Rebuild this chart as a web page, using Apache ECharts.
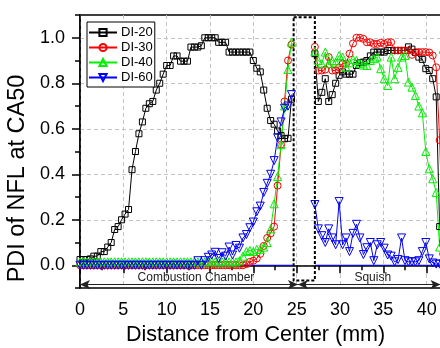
<!DOCTYPE html>
<html>
<head>
<meta charset="utf-8">
<script src="https://cdn.jsdelivr.net/npm/echarts@6/dist/echarts.min.js"></script>
<style>html,body{margin:0;padding:0;background:#fff}#c{width:440px;height:348px}</style>
</head>
<body>
<div id="c"></div>
<script>
// ---- data ----
const seriesNames = ['DI-20', 'DI-30', 'DI-40', 'DI-60'];
const xPre = [0.0,0.4,0.8,1.2,1.6,2.0,2.4,2.8,3.2,3.6,4.0,4.4,4.8,5.2,5.6,6.0,6.4,6.8,7.2,7.6,8.0,8.4,8.8,9.2,9.6,10.0,10.4,10.8,11.2,11.6,12.0,12.4,12.8,13.2,13.6,14.0,14.4,14.8,15.2,15.6,16.0,16.4,16.8,17.2,17.6,18.0,18.4,18.8,19.2,19.6,20.0,20.4,20.8,21.2,21.6,22.0,22.4,22.8,23.2,23.6,24.0,24.4];
const xPost = [27.1,27.5,27.9,28.3,28.7,29.1,29.5,29.9,30.3,30.7,31.1,31.5,31.9,32.3,32.7,33.1,33.5,33.9,34.3,34.7,35.1,35.5,35.9,36.3,36.7,37.1,37.5,37.9,38.3,38.7,39.1,39.5,39.9,40.3,40.7,41.1,41.5,41.9];
const xGap = 25.8;

const di20Pre = [0.025,0.025,0.025,0.028,0.04,0.04,0.06,0.06,0.08,0.10,0.157,0.17,0.20,0.225,0.245,0.42,0.50,0.578,0.63,0.69,0.71,0.72,0.77,0.80,0.84,0.878,0.878,0.92,0.92,0.897,0.897,0.897,0.959,0.959,0.959,0.965,1.0,1.0,1.0,1.0,0.98,0.98,0.98,0.937,0.937,0.937,0.937,0.937,0.937,0.937,0.90,0.866,0.85,0.77,0.69,0.636,0.62,0.59,0.57,0.556,0.558,0.73];
const di20Post = [0.93,0.72,0.76,0.82,0.72,0.75,0.80,0.835,0.85,0.84,0.84,0.84,0.878,0.89,0.893,0.90,0.92,0.937,0.937,0.937,0.937,0.944,0.944,0.944,0.944,0.944,0.944,0.96,0.95,0.935,0.915,0.905,0.864,0.856,0.82,0.74,0.17,0.10];

const di30Pre = [0,0,0,0,0,0,0,0,0,0,0,0,0,0,0,0,0,0,0,0,0,0,0,0,0,0,0,0,0,0,0,0,0,0,0,0,0,0,0,0,0,0,0,0,0,0,0,0,0.005,0.015,0.02,0.03,0.05,0.085,0.12,0.14,0.17,0.35,0.53,0.72,0.90,0.97];
const di30Post = [0.96,0.856,0.856,0.86,0.915,0.856,0.856,0.87,0.886,0.886,0.93,0.975,1.0,1.0,0.995,0.98,0.98,0.973,0.973,0.978,0.973,0.98,0.98,0.944,0.944,0.944,0.944,0.944,0.925,0.937,0.937,0.937,0.937,0.935,0.922,0.87,0.55,0.05];

const di40Pre = [0.015,0.015,0.015,0.015,0.015,0.015,0.015,0.015,0.015,0.015,0.015,0.015,0.015,0.015,0.015,0.015,0.015,0.015,0.015,0.015,0.015,0.015,0.015,0.015,0.015,0.015,0.015,0.015,0.015,0.015,0.015,0.015,0.015,0.015,0.015,0.015,0.015,0.015,0.015,0.015,0.015,0.015,0.015,0.015,0.015,0.015,0.02,0.04,0.06,0.065,0.06,0.07,0.07,0.08,0.10,0.16,0.27,0.39,0.53,0.70,0.86,0.98];
const di40Post = [0.94,0.90,0.886,0.937,0.886,0.90,0.893,0.922,0.915,0.87,0.89,0.905,0.90,0.886,0.88,0.878,0.90,0.908,0.915,0.864,0.82,0.79,0.915,0.82,0.87,0.915,0.922,0.805,0.783,0.746,0.70,0.67,0.50,0.424,0.38,0.32,0.08,0.95];

const di60Pre = [0,0,0,0,0,0,0,0,0,0,0,0,0,0,0,0,0,0,0,0,0,0,0,0,0,0,0,0,0,0,0,0,0,0,0.02,0.0,0.02,0.035,0.045,0.057,0.03,0.055,0.04,0.08,0.045,0.087,0.075,0.12,0.135,0.165,0.19,0.235,0.26,0.32,0.36,0.40,0.46,0.56,0.63,0.69,0.70,0.75];
const di60Post = [0.267,0.16,0.13,0.10,0.16,0.12,0.09,0.28,0.09,0.12,0.06,0.14,0.18,0.12,0.047,0.077,0.10,0.02,0.09,0.10,0.075,0.045,0.04,0.015,0.025,0.12,0.02,0.015,0.015,0.015,0.02,0.06,0.10,0.028,0.01,0.005,0.005,0.005];

const baseX = [0, 24.6, 25.8, 27.1, 45];
const baseY = [0, 0, null, 0, 0];

const yTickLabels = [0, 0.2, 0.4, 0.6, 0.8, 1.0];

// annotation geometry (data units)
const arrowY = -0.085;
const regions = [
  { name: 'Combustion Chamber', from: 0, to: 25.15, shift: 14 },
  { name: 'Squish', from: 25.15, to: 41.6, shift: 7 }
];
const boxX = [24.65, 27.1];
const boxY = [-0.067, 1.09];

// ---- build ----
function join(pre, post) {
  const d = xPre.map((x, i) => [x, pre[i]]);
  d.push([xGap, '-']);
  return d.concat(xPost.map((x, i) => [x, post[i]]));
}
const colors = ['#000000', '#ff0000', '#00f000', '#0000ff'];
const symbols = ['rect', 'circle', 'triangle', 'triangle'];
const sizes = [6, 7, 8, 8];
const rotates = [0, 0, 0, 180];
const values = [[di20Pre, di20Post], [di30Pre, di30Post], [di40Pre, di40Post], [di60Pre, di60Post]];

const FONT = '"Liberation Sans", Arial, sans-serif';
const GRID_W = 390;
const series = seriesNames.map((n, k) => ({
  name: n,
  type: 'line',
  data: join(values[k][0], values[k][1]),
  symbol: symbols[k],
  symbolSize: sizes[k],
  symbolRotate: rotates[k],
  showAllSymbol: true,
  connectNulls: false,
  color: colors[k],
  lineStyle: { color: colors[k], width: 1 },
  itemStyle: { color: 'rgba(255,255,255,0)', borderColor: colors[k], borderWidth: 1 }
}));

series.unshift({
  name: 'base',
  type: 'line',
  data: baseX.map((x, i) => [x, baseY[i] === null ? '-' : baseY[i]]),
  symbol: 'none',
  silent: true,
  lineStyle: { color: '#0000ff', width: 1.2 },
  markLine: {
    silent: true,
    symbol: ['arrow', 'arrow'],
    symbolSize: [7, 10],
    lineStyle: { color: '#222', width: 1, type: 'solid' },
    data: regions.map(r => [
      { name: r.name, coord: [r.from, arrowY],
        label: { show: true, position: 'middle', distance: 1, color: '#222', fontSize: 12, fontFamily: FONT,
                 padding: [0, 0, 0, r.shift], formatter: r.name } },
      { coord: [r.to, arrowY] }])
  },
  markArea: {
    silent: true,
    itemStyle: { color: 'rgba(0,0,0,0)', borderColor: '#000', borderWidth: 2, borderType: [3, 2] },
    data: [[{ coord: [boxX[0], boxY[1]] }, { coord: [boxX[1], boxY[0]] }]]
  }
});

const chart = echarts.init(document.getElementById('c'), null, { renderer: 'canvas' });
chart.setOption({
  animation: false,
  backgroundColor: '#fff',
  textStyle: { fontFamily: FONT },
  grid: { left: 80, top: 15, width: GRID_W, height: 273, outerBoundsMode: 'none', containLabel: false,
          show: true, borderColor: '#000', borderWidth: 1.5 },
  legend: {
    data: seriesNames,
    orient: 'vertical',
    left: 87, top: 22,
    padding: [4, 2, 3, 1],
    itemGap: 2,
    itemWidth: 28, itemHeight: 9,
    backgroundColor: '#fff',
    borderColor: '#000', borderWidth: 1,
    textStyle: { fontSize: 13, color: '#000', fontFamily: FONT, padding: [0, 0, 0, -1] }
  },
  xAxis: {
    type: 'value', min: 0, max: 45, interval: 5,
    name: 'Distance from Center (mm)', nameLocation: 'middle', nameGap: 34,
    nameTextStyle: { fontSize: 21.5, color: '#000', fontFamily: FONT, padding: [0, 39, 0, 0] },
    axisLine: { show: true, lineStyle: { color: '#000', width: 1.5 } },
    axisTick: { show: true, length: 8, lineStyle: { color: '#000', width: 1.5 } },
    minorTick: { show: true, splitNumber: 2, length: 5, lineStyle: { color: '#000', width: 1.5 } },
    axisLabel: { fontSize: 18, color: '#000', margin: 13, fontFamily: FONT, showMaxLabel: false },
    splitLine: { show: true, lineStyle: { color: '#c4c4c4', type: [4, 3], width: 1 } }
  },
  yAxis: [{
    type: 'value', min: -0.1, max: 1.1, interval: 0.1,
    name: 'PDI of NFL at CA50', nameLocation: 'middle', nameGap: 43,
    nameTextStyle: { fontSize: 23.5, color: '#000', fontFamily: FONT, padding: [0, 54, 0, 0] },
    axisLine: { show: true, lineStyle: { color: '#000', width: 1.5 } },
    axisTick: { show: true, length: 8, customValues: yTickLabels, lineStyle: { color: '#000', width: 1.5 } },
    axisLabel: { fontSize: 18, color: '#000', margin: 15, fontFamily: FONT, customValues: yTickLabels,
      formatter: v => Number(v).toFixed(1) },
    splitLine: { show: true, lineStyle: { color: '#c4c4c4', type: [4, 3], width: 1 } }
  }, {
    type: 'value', min: -0.1, max: 1.1, interval: 0.1,
    position: 'right', offset: -GRID_W,
    axisLine: { show: false },
    axisTick: { show: true, inside: true, length: 5, lineStyle: { color: '#000', width: 1.5 } },
    axisLabel: { show: false },
    splitLine: { show: false }
  }],
  series: series
});
</script>
</body>
</html>
